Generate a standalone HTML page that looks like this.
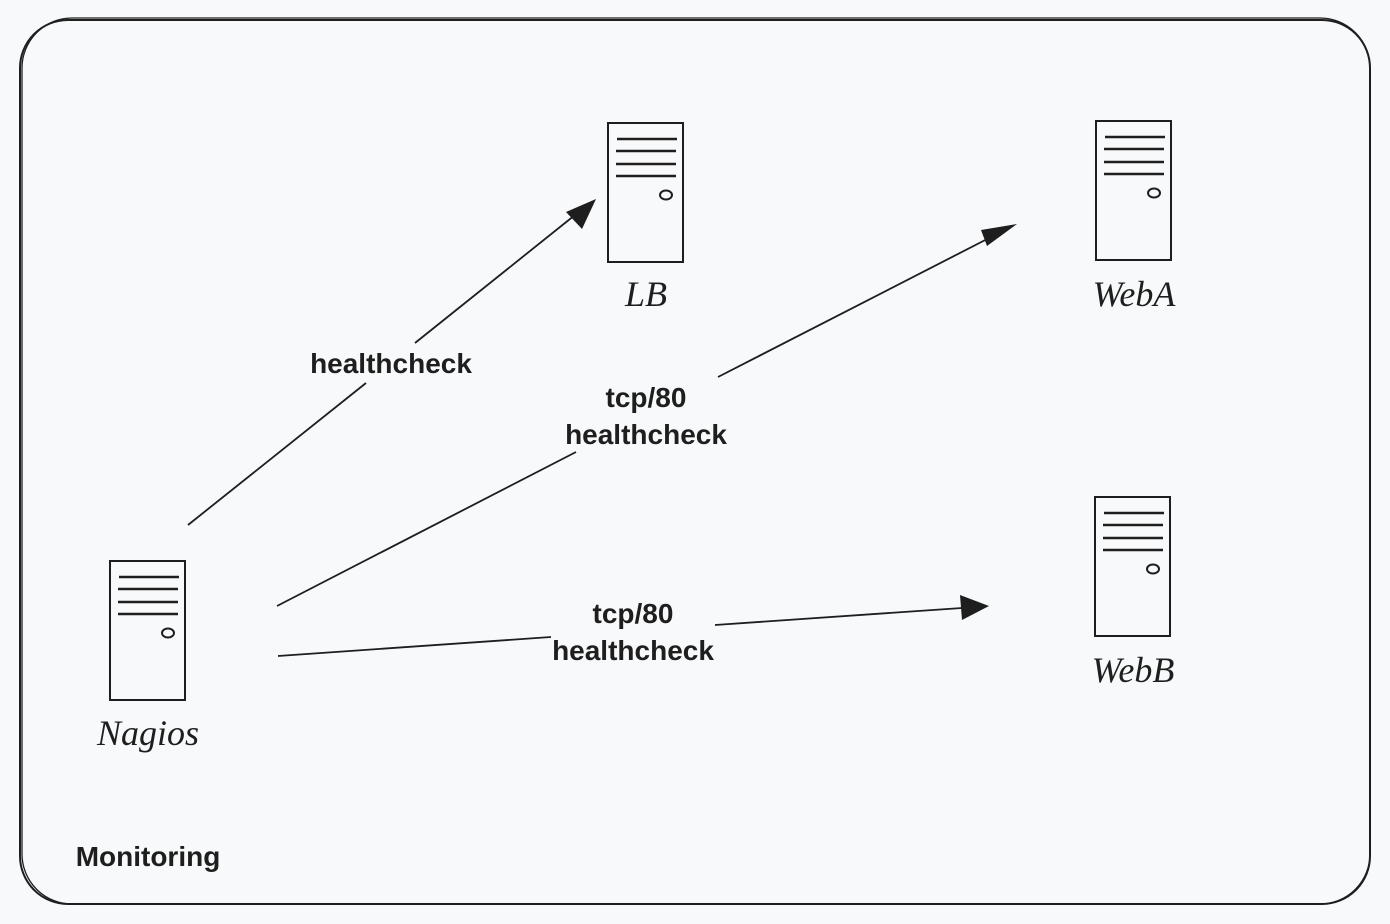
<!DOCTYPE html>
<html><head><meta charset="utf-8"><style>
html,body{margin:0;padding:0;background:#f8f9fa;}
svg{display:block}
.lbl{font-family:"Liberation Sans",sans-serif;font-weight:bold;font-size:28px;fill:#1e1e1e;text-anchor:middle}
.name{font-family:"Liberation Serif",serif;font-style:italic;font-size:36px;fill:#1e1e1e;text-anchor:middle}
</style></head><body>
<svg width="1390" height="924" viewBox="0 0 1390 924" xmlns="http://www.w3.org/2000/svg">
<defs>
<g id="srv">
<rect x="0" y="0" width="75" height="139" fill="none" stroke="#1e1e1e" stroke-width="2"/>
<line x1="9" y1="16" x2="69" y2="16" stroke="#1e1e1e" stroke-width="2.5"/>
<line x1="8" y1="28" x2="68" y2="28" stroke="#1e1e1e" stroke-width="2.5"/>
<line x1="8" y1="41" x2="68" y2="41" stroke="#1e1e1e" stroke-width="2.5"/>
<line x1="8" y1="53" x2="68" y2="53" stroke="#1e1e1e" stroke-width="2.5"/>
<ellipse cx="58" cy="72" rx="6" ry="4.5" fill="none" stroke="#1e1e1e" stroke-width="2"/>
</g>
</defs>
<rect x="0" y="0" width="1390" height="924" fill="#f8f9fa"/>
<rect x="20" y="20" width="1350" height="884" rx="48" fill="none" stroke="#1e1e1e" stroke-width="2"/>
<rect x="22" y="18" width="1348" height="886" rx="50" fill="none" stroke="#1e1e1e" stroke-width="1.3"/>

<use href="#srv" x="608" y="123"/>
<use href="#srv" x="1096" y="121"/>
<use href="#srv" x="1095" y="497"/>
<use href="#srv" x="110" y="561"/>

<text class="name" x="646" y="306">LB</text>
<text class="name" x="1134" y="306">WebA</text>
<text class="name" x="1133" y="682">WebB</text>
<text class="name" x="148" y="745">Nagios</text>

<g stroke="#1e1e1e" stroke-width="1.8" fill="none">
<line x1="188" y1="525" x2="366" y2="383"/>
<line x1="415" y1="343" x2="575" y2="215"/>
<line x1="277" y1="606" x2="576" y2="452"/>
<line x1="718" y1="377" x2="995" y2="235"/>
<line x1="278" y1="656" x2="551" y2="637"/>
<line x1="715" y1="625" x2="962" y2="608"/>
</g>
<g fill="#1e1e1e">
<polygon points="596,199 566,212 582,229"/>
<polygon points="1017,224 987,246 981,230"/>
<polygon points="989,606 962,620 960,595"/>
</g>

<text class="lbl" x="391" y="373">healthcheck</text>
<text class="lbl" x="646" y="407">tcp/80</text>
<text class="lbl" x="646" y="444">healthcheck</text>
<text class="lbl" x="633" y="623">tcp/80</text>
<text class="lbl" x="633" y="660">healthcheck</text>
<text class="lbl" x="148" y="866">Monitoring</text>
</svg>
</body></html>
